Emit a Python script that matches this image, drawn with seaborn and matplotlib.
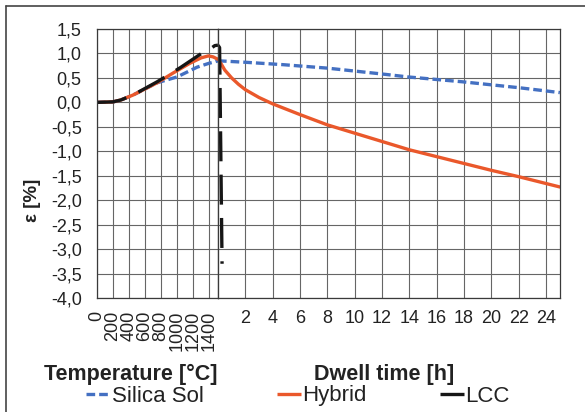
import matplotlib
matplotlib.use("Agg")
import matplotlib.pyplot as plt
from matplotlib.lines import Line2D
from matplotlib.ticker import FuncFormatter
import numpy as np
import pandas as pd
import seaborn as sns

# ---- data -------------------------------------------------------------
series_names = ["Silica Sol", "Hybrid", "LCC"]
series_colors = ["#4470C2", "#EA582B", "#161616"]

# heating ramp: strain vs temperature [°C]
silica_temp = [0, 200, 300, 450, 750, 1000, 1125, 1250, 1400, 1475, 1510]
silica_heat = [0.0, 0.01, 0.05, 0.15, 0.40, 0.52, 0.62, 0.72, 0.80, 0.83, 0.85]
hybrid_temp = [0, 200, 300, 450, 750, 950, 1160, 1300, 1390, 1450, 1510]
hybrid_heat = [0.0, 0.01, 0.05, 0.15, 0.40, 0.60, 0.80, 0.91, 0.95, 0.93, 0.88]
lcc_temp = [0, 200, 300, 450, 750, 1040, 1350, 1420, 1470, 1510]
lcc_heat = [0.0, 0.01, 0.05, 0.15, 0.42, 0.71, 1.05, 1.10, 1.16, 1.17]

# dwell at maximum temperature: strain vs time [h]
silica_time = [0, 2, 4.8, 8, 10, 12, 13.9, 17.9, 22, 25]
silica_dwell = [0.85, 0.82, 0.77, 0.70, 0.64, 0.58, 0.52, 0.42, 0.30, 0.20]
hybrid_time = [0, 0.25, 0.5, 1, 1.5, 2, 3, 4, 5, 6, 8, 10, 12, 14, 16, 18, 20, 22, 24, 25]
hybrid_dwell = [0.88, 0.78, 0.66, 0.50, 0.37, 0.26, 0.10, -0.03, -0.14, -0.25, -0.46,
                -0.63, -0.80, -0.97, -1.11, -1.25, -1.39, -1.52, -1.66, -1.73]
lcc_time = [0, 0.12, 0.3]
lcc_dwell = [1.17, 1.12, -3.3]

temp_ticks = [0, 200, 400, 600, 800, 1000, 1200, 1400]
time_ticks = [2, 4, 6, 8, 10, 12, 14, 16, 18, 20, 22, 24]
y_ticks = [1.5, 1.0, 0.5, 0.0, -0.5, -1.0, -1.5, -2.0, -2.5, -3.0, -3.5, -4.0]

# ---- long-form tables ---------------------------------------------------
heat = pd.concat([
    pd.DataFrame({"x": silica_temp, "eps": silica_heat, "series": "Silica Sol"}),
    pd.DataFrame({"x": hybrid_temp, "eps": hybrid_heat, "series": "Hybrid"}),
    pd.DataFrame({"x": lcc_temp, "eps": lcc_heat, "series": "LCC"}),
], ignore_index=True)
dwell = pd.concat([
    pd.DataFrame({"x": silica_time, "eps": silica_dwell, "series": "Silica Sol"}),
    pd.DataFrame({"x": hybrid_time, "eps": hybrid_dwell, "series": "Hybrid"}),
    pd.DataFrame({"x": lcc_time, "eps": lcc_dwell, "series": "LCC"}),
], ignore_index=True)

sns.set_style("white")
plt.rcParams["font.family"] = ["Liberation Sans", "DejaVu Sans"]

palette = dict(zip(series_names, series_colors))
dash_map = {"Silica Sol": (2.6, 1.2), "Hybrid": "", "LCC": (9, 4)}
text_color = "#222222"

fig = plt.figure(figsize=(5.85, 4.12), dpi=100)
gs = fig.add_gridspec(1, 2, width_ratios=[121, 342], wspace=0,
                      left=0.1658, right=0.957, top=0.9296, bottom=0.2767)
ax1 = fig.add_subplot(gs[0])
ax2 = fig.add_subplot(gs[1], sharey=ax1)

for ax, df in ((ax1, heat), (ax2, dwell)):
    sns.lineplot(data=df, x="x", y="eps", hue="series", style="series",
                 hue_order=series_names, style_order=series_names,
                 palette=palette, dashes=dash_map, linewidth=2.4,
                 estimator=None, sort=False, legend=False, ax=ax)
    for ln in ax.lines:
        ln.set_dash_capstyle("butt")
        ln.set_solid_capstyle("round")

grid_kw = dict(color="#666666", linewidth=0.8)
comma = FuncFormatter(lambda v, p: f"{v:.1f}".replace(".", ","))

ax1.set_xlim(0, 1510)
ax1.set_xticks(temp_ticks)
ax1.set_xticklabels([str(t) for t in temp_ticks], rotation=90)
ax2.set_xlim(0, 25)
ax2.set_xticks([0] + time_ticks)
ax2.set_xticklabels([""] + [str(t) for t in time_ticks])

ax1.set_ylim(-4.0, 1.5)
ax1.set_yticks(y_ticks)
ax1.yaxis.set_major_formatter(comma)
plt.setp(ax2.get_yticklabels(), visible=False)
ax2.tick_params(axis="y", length=0)

for ax in (ax1, ax2):
    ax.grid(True, **grid_kw)
    ax.set_axisbelow(True)
    for sp in ax.spines.values():
        sp.set_visible(True)
        sp.set_color("#3a3a3a")
        sp.set_linewidth(0.9)
    ax.tick_params(axis="x", direction="out", length=4, width=0.8,
                   color="#3a3a3a", labelsize=13, pad=5, labelcolor=text_color)
ax1.tick_params(axis="y", direction="out", length=4, width=0.8,
                color="#3a3a3a", labelsize=13, pad=7, labelcolor=text_color)

ax1.set_xlabel("Temperature [°C]", fontsize=15.5, fontweight="bold", color=text_color,
               ha="right", va="center")
ax1.xaxis.set_label_coords(1.0, -0.285)
ax2.set_xlabel("Dwell time [h]", fontsize=15.5, fontweight="bold", color=text_color,
               ha="center", va="center")
ax2.xaxis.set_label_coords(0.485, -0.285)
ax1.set_ylabel("ε [%]", fontsize=13.5, fontweight="bold", color=text_color,
               va="center", ha="center")
ax1.yaxis.set_label_coords(-0.53, 0.364)
ax2.set_ylabel("")

handles = [Line2D([], [], color=c, lw=2.4, dashes=dash_map[n] if dash_map[n] else (None, None),
                  dash_capstyle="butt", solid_capstyle="butt")
           for n, c in zip(series_names, series_colors)]
handles[1].set_linestyle("-")
handles[2].set_linestyle("-")
fig.legend(handles, series_names, loc="center left", bbox_to_anchor=(86 / 585, 1 - 396 / 412),
           ncol=3, frameon=False, fontsize=16, handlelength=1.1, handletextpad=0.05,
           columnspacing=3.3, borderaxespad=0, borderpad=0, labelcolor=text_color)

# thin frame around the figure (top and left edges)
fig.add_artist(Line2D([6 / 585, 1.0], [1 - 6 / 412, 1 - 6 / 412],
                      transform=fig.transFigure, color="#444444", lw=1.2))
fig.add_artist(Line2D([6 / 585, 6 / 585], [0.0, 1 - 6 / 412],
                      transform=fig.transFigure, color="#444444", lw=1.2))

fig.savefig("out.png", dpi=100)
